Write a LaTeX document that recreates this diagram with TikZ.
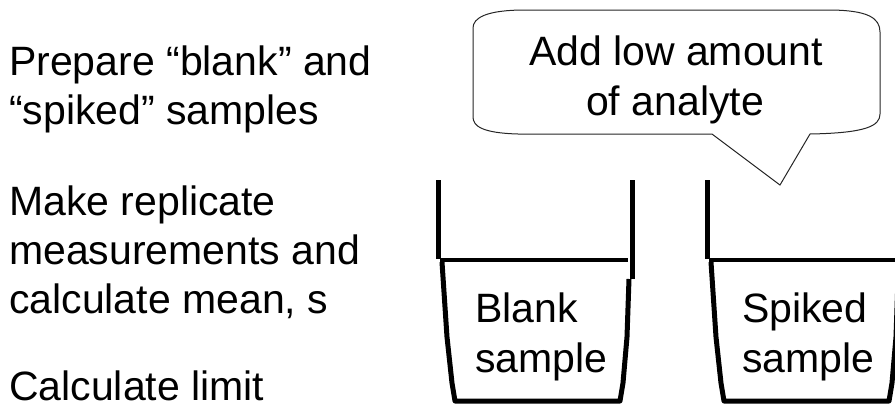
\documentclass[tikz,border=0pt]{standalone}
\usepackage{fontspec}
\setmainfont{Liberation Sans}
\begin{document}
\begin{tikzpicture}[x=1pt,y=-1pt,
  txt/.style={inner sep=0pt,anchor=base west,font=\fontsize{41}{49}\selectfont},
  ctxt/.style={inner sep=0pt,anchor=base,font=\fontsize{41}{49}\selectfont},
  wall/.style={line width=5pt,black,line join=round},
  liquid/.style={line width=4.5pt,black},
  bubble/.style={line width=1pt,black!85,fill=white}]
\useasboundingbox (0,0) rectangle (895,408);
% left text
\node[txt] (s1a) at (9,75) {Prepare “blank” and};
\node[txt] (s1b) at (9,124) {“spiked” samples};
\node[txt] (s2a) at (9,215) {Make replicate};
\node[txt] (s2b) at (9,264) {measurements and};
\node[txt] (s2c) at (9,313) {calculate mean, s};
\node[txt] (s3a) at (9,400) {Calculate limit};
% callout
\draw[bubble] (525,10) -- (828,10) .. controls (868,10) and (880,18) .. (880,32)
  -- (880,114) .. controls (880,126) and (866,133) .. (810,134)
  -- (780,185) -- (712,134) -- (518,134)
  .. controls (482,133) and (473,126) .. (473,117)
  -- (473,28) .. controls (473,18) and (486,10) .. (525,10) -- cycle;
\node[ctxt] (c1) at (676,65) {Add low amount};
\node[ctxt] (c2) at (675,115) {of analyte};
% beakers
\foreach \dx/\nm in {0/blank,269/spiked}{
  \begin{scope}[xshift=\dx]
    \draw[wall] (438,180) -- (438,259);
    \draw[wall] (442,262) -- (447,337) -- (452,383) -- (455,401) -- (620,401)
      -- (623,383) -- (627,337) -- (629,279);
    \draw[wall] (632,180) -- (632,279);
    \draw[liquid] (440,260) -- (628,260);
  \end{scope}
}
\node[txt] (b1) at (475,322) {Blank};
\node[txt] (b2) at (475,372) {sample};
\node[txt] (k1) at (742,322) {Spiked};
\node[txt] (k2) at (742,372) {sample};
\end{tikzpicture}
\end{document}
